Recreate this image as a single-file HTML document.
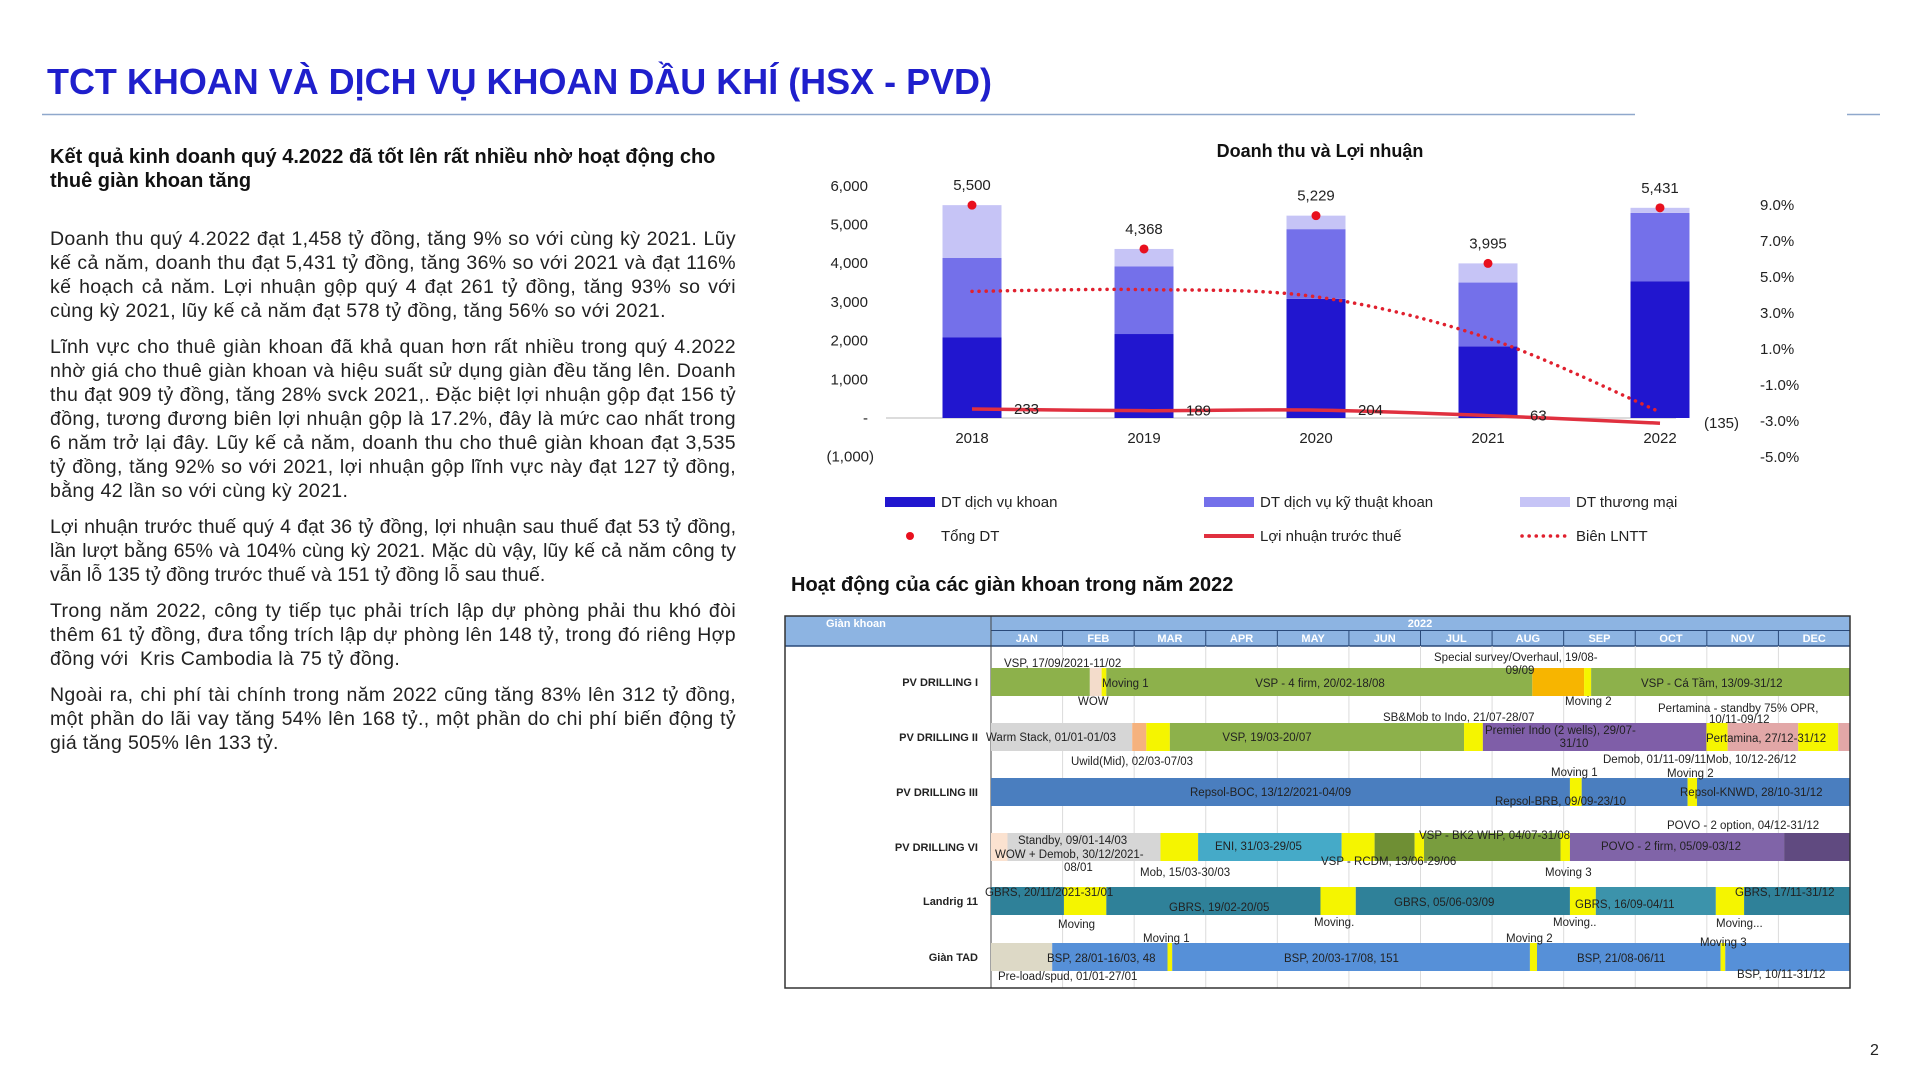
<!DOCTYPE html>
<html><head><meta charset="utf-8">
<style>
html,body{margin:0;padding:0;background:#fff;}
body{width:1920px;height:1080px;position:relative;overflow:hidden;font-family:"Liberation Sans",Arial,sans-serif;}
.abs{position:absolute;}
#heading{left:50px;top:145px;width:700px;font-weight:bold;font-size:20px;line-height:24px;color:#111;}
#body{left:50px;top:227px;width:686px;font-size:19.5px;letter-spacing:0.35px;line-height:24px;color:#222;text-align:justify;}
#body p{margin:0 0 12px 0;}
#body p.tight{letter-spacing:0px;}
</style></head>
<body>
<svg class="abs" style="left:0;top:0" width="1920" height="1080">
  <text x="47" y="94" font-family="Liberation Sans, sans-serif" font-weight="bold" font-size="36" fill="#1f1fcc" textLength="945" lengthAdjust="spacingAndGlyphs">TCT KHOAN VÀ DỊCH VỤ KHOAN DẦU KHÍ (HSX - PVD)</text>
  <line x1="42" y1="114.5" x2="1635" y2="114.5" stroke="#8fa8cc" stroke-width="1.5"/>
  <line x1="1847" y1="114.5" x2="1880" y2="114.5" stroke="#8fa8cc" stroke-width="1.5"/>
  <text x="1870" y="1055" font-family="Liberation Sans, sans-serif" font-size="16" fill="#222">2</text>
</svg>
<div id="heading" class="abs">Kết quả kinh doanh quý 4.2022 đã tốt lên rất nhiều nhờ hoạt động cho thuê giàn khoan tăng</div>
<div id="body" class="abs">
<p>Doanh thu quý 4.2022 đạt 1,458 tỷ đồng, tăng 9% so với cùng kỳ 2021. Lũy kế cả năm, doanh thu đạt 5,431 tỷ đồng, tăng 36% so với 2021 và đạt 116% kế hoạch cả năm. Lợi nhuận gộp quý 4 đạt 261 tỷ đồng, tăng 93% so với cùng kỳ 2021, lũy kế cả năm đạt 578 tỷ đồng, tăng 56% so với 2021.</p>
<p>Lĩnh vực cho thuê giàn khoan đã khả quan hơn rất nhiều trong quý 4.2022 nhờ giá cho thuê giàn khoan và hiệu suất sử dụng giàn đều tăng lên. Doanh thu đạt 909 tỷ đồng, tăng 28% svck 2021,. Đặc biệt lợi nhuận gộp đạt 156 tỷ đồng, tương đương biên lợi nhuận gộp là 17.2%, đây là mức cao nhất trong 6 năm trở lại đây. Lũy kế cả năm, doanh thu cho thuê giàn khoan đạt 3,535 tỷ đồng, tăng 92% so với 2021, lợi nhuận gộp lĩnh vực này đạt 127 tỷ đồng, bằng 42 lần so với cùng kỳ 2021.</p>
<p class="tight">Lợi nhuận trước thuế quý 4 đạt 36 tỷ đồng, lợi nhuận sau thuế đạt 53 tỷ đồng, lần lượt bằng 65% và 104% cùng kỳ 2021. Mặc dù vậy, lũy kế cả năm công ty vẫn lỗ 135 tỷ đồng trước thuế và 151 tỷ đồng lỗ sau thuế.</p>
<p>Trong năm 2022, công ty tiếp tục phải trích lập dự phòng phải thu khó đòi thêm 61 tỷ đồng, đưa tổng trích lập dự phòng lên 148 tỷ, trong đó riêng Hợp đồng với&nbsp; Kris Cambodia là 75 tỷ đồng.</p>
<p>Ngoài ra, chi phí tài chính trong năm 2022 cũng tăng 83% lên 312 tỷ đồng, một phần do lãi vay tăng 54% lên 168 tỷ., một phần do chi phí biến động tỷ giá tăng 505% lên 133 tỷ.</p>
</div>

<svg id="chart" class="abs" style="left:0;top:0" width="1920" height="1080" font-family="Liberation Sans, sans-serif"></svg>
<svg id="gantt" class="abs" style="left:0;top:0" width="1920" height="1080" font-family="Liberation Sans, sans-serif"></svg>

<script>
// ---------- chart data ----------
const years = ['2018','2019','2020','2021','2022'];
const dtKhoan = [2080, 2170, 3080, 1850, 3535];
const dtKyThuat = [2060, 1750, 1800, 1650, 1765];
const dtThuongMai = [1360, 448, 349, 495, 131];
const tongDT = [5500, 4368, 5229, 3995, 5431];
const lntt = [233, 189, 204, 63, -135];
const bienLNTT = [4.2, 4.3, 3.9, 1.6, -2.5];
const leftTicks = [6000, 5000, 4000, 3000, 2000, 1000, 0, -1000];
const leftTickLabels = ['6,000','5,000','4,000','3,000','2,000','1,000','-','(1,000)'];
const rightTicks = [9, 7, 5, 3, 1, -1, -3, -5];
const rightTickLabels = ['9.0%','7.0%','5.0%','3.0%','1.0%','-1.0%','-3.0%','-5.0%'];

const NS = 'http://www.w3.org/2000/svg';
function mk(parent, tag, attrs, text){
  const e = document.createElementNS(NS, tag);
  for (const k in attrs) e.setAttribute(k, attrs[k]);
  if (text !== undefined) e.textContent = text;
  parent.appendChild(e);
  return e;
}
function fmt(v){ const s = Math.abs(v).toString().replace(/\B(?=(\d{3})+(?!\d))/g, ','); return v < 0 ? '(' + s + ')' : s; }
const xS = i => 972 + i * 172;
const yL = v => 418 - v * 0.0387;
const yR = p => 367 - p * 18;
const BW = 59;

const chart = document.getElementById('chart');
let t = mk(chart, 'text', {x:1320, y:157, 'text-anchor':'middle', 'font-size':18, 'font-weight':'bold', fill:'#111'}, 'Doanh thu và Lợi nhuận');



leftTicks.forEach((v, i) => {
  const e = mk(chart, 'text', {x: v < 0 ? 874 : 868, y: yL(v) + 5, 'text-anchor':'end', 'font-size':15, fill:'#222'}, leftTickLabels[i]);
  
  
});
rightTicks.forEach((p, i) => {
  const e = mk(chart, 'text', {x:1760, y: yR(p) + 5, 'font-size':15, fill:'#222'}, rightTickLabels[i]);
  
  
});
let ax = mk(chart, 'line', {x1:886, y1:yL(0), x2:1676, y2:yL(0), stroke:'#d0d0d0', 'stroke-width':1.5});



years.forEach((y, i) => {
  const cx = xS(i);
  const segs = [[0, dtKhoan[i], '#2116cf', 'bar-dt-dich-vu-khoan'],
                [dtKhoan[i], dtKhoan[i] + dtKyThuat[i], '#7470ea', 'bar-dt-ky-thuat-khoan'],
                [dtKhoan[i] + dtKyThuat[i], dtKhoan[i] + dtKyThuat[i] + dtThuongMai[i], '#c6c4f6', 'bar-dt-thuong-mai']];
  segs.forEach(s => {
    const r = mk(chart, 'rect', {x: cx - BW/2, y: yL(s[1]), width: BW, height: yL(s[0]) - yL(s[1]), fill: s[2]});
    
    
  });
  const yl = mk(chart, 'text', {x: cx, y: 443, 'text-anchor':'middle', 'font-size':15, fill:'#222'}, y);
  
  
});

function smooth(pts){
  let d = 'M' + pts[0][0] + ',' + pts[0][1];
  for (let i = 0; i < pts.length - 1; i++) {
    const p0 = pts[Math.max(0, i-1)], p1 = pts[i], p2 = pts[i+1], p3 = pts[Math.min(pts.length-1, i+2)];
    const c1x = p1[0] + (p2[0]-p0[0])/6, c1y = p1[1] + (p2[1]-p0[1])/6;
    const c2x = p2[0] - (p3[0]-p1[0])/6, c2y = p2[1] - (p3[1]-p1[1])/6;
    d += ' C' + c1x + ',' + c1y + ' ' + c2x + ',' + c2y + ' ' + p2[0] + ',' + p2[1];
  }
  return d;
}
const mPts = bienLNTT.map((p, i) => [xS(i), yR(p)]);
let ml = mk(chart, 'path', {d: smooth(mPts), fill:'none', stroke:'#e0202e', 'stroke-width':3.5, 'stroke-dasharray':'0.1 7', 'stroke-linecap':'round'});



const pPts = lntt.map((v, i) => [xS(i), yL(v)]);
let pl = mk(chart, 'path', {d: smooth(pPts), fill:'none', stroke:'#e0303f', 'stroke-width':3.5});


lntt.forEach((v, i) => {
  const e = mk(chart, 'text', {x: xS(i) + (v < 0 ? 44 : 42), y: yL(v) + 5, 'font-size':15, fill:'#222'}, fmt(v));
  
  
});

tongDT.forEach((v, i) => {
  const d = mk(chart, 'circle', {cx: xS(i), cy: yL(v), r:4.5, fill:'#e8101e'});
  
  
  const e = mk(chart, 'text', {x: xS(i), y: yL(v) - 15, 'text-anchor':'middle', 'font-size':15, fill:'#222'}, fmt(v));
  
  
});

const legendItems = [
  ['rect', '#2116cf', 'DT dịch vụ khoan', 885, 502],
  ['rect', '#7470ea', 'DT dịch vụ kỹ thuật khoan', 1204, 502],
  ['rect', '#c6c4f6', 'DT thương mại', 1520, 502],
  ['dot', '#e8101e', 'Tổng DT', 885, 536],
  ['line', '#e0303f', 'Lợi nhuận trước thuế', 1204, 536],
  ['dots', '#e0202e', 'Biên LNTT', 1520, 536]
];
legendItems.forEach(it => {
  const g = mk(chart, 'g', {});
  
  
  const [kind, col, label, x, y] = it;
  if (kind === 'rect') mk(g, 'rect', {x: x, y: y - 5, width: 50, height: 10, fill: col});
  if (kind === 'dot') mk(g, 'circle', {cx: x + 25, cy: y, r: 4, fill: col});
  if (kind === 'line') mk(g, 'line', {x1: x, y1: y, x2: x + 50, y2: y, stroke: col, 'stroke-width': 4});
  if (kind === 'dots') mk(g, 'line', {x1: x + 2, y1: y, x2: x + 50, y2: y, stroke: col, 'stroke-width': 3.5, 'stroke-dasharray': '0.1 7', 'stroke-linecap': 'round'});
  mk(g, 'text', {x: x + 56, y: y + 5, 'font-size': 15, fill: '#222'}, label);
});

// ---------- gantt data ----------
const months = ['JAN','FEB','MAR','APR','MAY','JUN','JUL','AUG','SEP','OCT','NOV','DEC'];
const rigNames = ['PV DRILLING I','PV DRILLING II','PV DRILLING III','PV DRILLING VI','Landrig 11','Giàn TAD'];
const rigBarTop = [668, 723, 778, 833, 887, 943];
const segStart = [
  [0, 42, 47, 49, 230, 252, 255],
  [0, 60, 66, 76, 201, 209, 304, 313, 343, 360],
  [0, 246, 251, 296, 300],
  [0, 7, 72, 88, 149, 163, 180, 184, 242, 246, 337],
  [0, 31, 49, 140, 155, 246, 257, 308, 320],
  [0, 26, 75, 77, 229, 232, 310, 312]
];
const segEnd = [
  [42, 47, 49, 230, 252, 255, 365],
  [60, 66, 76, 201, 209, 304, 313, 343, 360, 365],
  [246, 251, 296, 300, 365],
  [7, 72, 88, 149, 163, 180, 184, 242, 246, 337, 365],
  [31, 49, 140, 155, 246, 257, 308, 320, 365],
  [26, 75, 77, 229, 232, 310, 312, 365]
];
const segColor = [
  ['#8db14b','#f3dccb','#f5f500','#8db14b','#f7b500','#f5f500','#8db14b'],
  ['#d6d6d6','#f5b27e','#f5f500','#8db14b','#f5f500','#7f5ea8','#f5f500','#e2a7a7','#f5f500','#e2a7a7'],
  ['#4a7ebf','#f5f500','#4a7ebf','#f5f500','#4a7ebf'],
  ['#fbe2d0','#d6d6d6','#f5f500','#45aac8','#f5f500','#6f8f34','#f5f500','#799d3e','#f5f500','#8064a8','#604a80'],
  ['#2f8199','#f5f500','#2f8199','#f5f500','#2f8199','#f5f500','#3c93ab','#f5f500','#2f8199'],
  ['#ddd9c6','#5690d8','#f5f500','#5690d8','#f5f500','#5690d8','#f5f500','#5690d8']
];
const ganttLabels = [
  ['VSP, 17/09/2021-11/02',1004,667,'start'],['Special survey/Overhaul, 19/08-',1434,661,'start'],['09/09',1520,674,'middle'],
  ['Moving 1',1102,687,'start'],['VSP - 4 firm, 20/02-18/08',1320,687,'middle'],['VSP - Cá Tầm, 13/09-31/12',1641,687,'start'],
  ['WOW',1078,705,'start'],['Moving 2',1565,705,'start'],['Pertamina - standby 75% OPR,',1658,712,'start'],['10/11-09/12',1709,723,'start'],
  ['SB&Mob to Indo, 21/07-28/07',1383,721,'start'],['Warm Stack, 01/01-01/03',986,741,'start'],['VSP, 19/03-20/07',1267,741,'middle'],
  ['Premier Indo (2 wells), 29/07-',1485,734,'start'],['31/10',1574,747,'middle'],['Pertamina, 27/12-31/12',1706,742,'start'],
  ['Uwild(Mid), 02/03-07/03',1071,765,'start'],['Demob, 01/11-09/11Mob, 10/12-26/12',1603,763,'start'],
  ['Moving 1',1551,776,'start'],['Moving 2',1667,777,'start'],
  ['Repsol-BOC, 13/12/2021-04/09',1190,796,'start'],['Repsol-BRB, 09/09-23/10',1495,805,'start'],['Repsol-KNWD, 28/10-31/12',1680,796,'start'],
  ['POVO - 2 option, 04/12-31/12',1667,829,'start'],
  ['Standby, 09/01-14/03',1018,844,'start'],['WOW + Demob, 30/12/2021-',995,858,'start'],['08/01',1064,871,'start'],
  ['ENI, 31/03-29/05',1215,850,'start'],['VSP - BK2 WHP, 04/07-31/08',1419,839,'start'],['VSP - RCDM, 13/06-29/06',1321,865,'start'],
  ['POVO - 2 firm, 05/09-03/12',1601,850,'start'],['Mob, 15/03-30/03',1140,876,'start'],['Moving 3',1545,876,'start'],
  ['GBRS, 20/11/2021-31/01',985,896,'start'],['GBRS, 19/02-20/05',1169,911,'start'],['GBRS, 05/06-03/09',1394,906,'start'],
  ['GBRS, 16/09-04/11',1575,908,'start'],['GBRS, 17/11-31/12',1735,896,'start'],
  ['Moving',1058,928,'start'],['Moving.',1314,926,'start'],['Moving..',1553,926,'start'],['Moving...',1716,927,'start'],
  ['Moving 1',1143,942,'start'],['Moving 2',1506,942,'start'],['Moving 3',1700,946,'start'],
  ['BSP, 28/01-16/03,  48',1047,962,'start'],['BSP, 20/03-17/08,  151',1284,962,'start'],['BSP, 21/08-06/11',1577,962,'start'],
  ['BSP, 10/11-31/12',1737,978,'start'],['Pre-load/spud, 01/01-27/01',998,980,'start']
];

const G = document.getElementById('gantt');
const GX0 = 991, GX1 = 1850;
const xD = d => GX0 + d / 365 * (GX1 - GX0);
let gt = mk(G, 'text', {x:791, y:591, 'font-size':20, 'font-weight':'bold', fill:'#111'}, 'Hoạt động của các giàn khoan trong năm 2022');


let bg = mk(G, 'rect', {x:785, y:616, width:1065, height:372, fill:'#fff'});


let hd = mk(G, 'rect', {x:785, y:616, width:1065, height:30, fill:'#8db4e2'});


mk(G, 'line', {x1:991, y1:630.5, x2:1850, y2:630.5, stroke:'#2a4a7a', 'stroke-width':1});
mk(G, 'line', {x1:785, y1:646, x2:1850, y2:646, stroke:'#2a4a7a', 'stroke-width':1.5});
mk(G, 'line', {x1:991, y1:616, x2:991, y2:988, stroke:'#444', 'stroke-width':1});
let hk = mk(G, 'text', {x:826, y:627, 'font-size':11, 'font-weight':'bold', fill:'#fff'}, 'Giàn khoan');


let hy = mk(G, 'text', {x:1420, y:627, 'text-anchor':'middle', 'font-size':11, 'font-weight':'bold', fill:'#fff'}, '2022');


months.forEach((m, i) => {
  const x0 = GX0 + i * (GX1 - GX0) / 12, x1 = GX0 + (i + 1) * (GX1 - GX0) / 12;
  if (i > 0) {
    mk(G, 'line', {x1: x0, y1: 631, x2: x0, y2: 646, stroke: '#2a4a7a', 'stroke-width': 1});
    mk(G, 'line', {x1: x0, y1: 646, x2: x0, y2: 988, stroke: '#dcdcdc', 'stroke-width': 1});
  }
  const e = mk(G, 'text', {x: (x0 + x1) / 2, y: 642, 'text-anchor':'middle', 'font-size':11, 'font-weight':'bold', fill:'#fff'}, m);
  
  
});
rigNames.forEach((n, r) => {
  const top = rigBarTop[r];
  segStart[r].forEach((s, k) => {
    const rc = mk(G, 'rect', {x: xD(s), y: top, width: xD(segEnd[r][k]) - xD(s), height: 28, fill: segColor[r][k]});
    
    
  });
  const e = mk(G, 'text', {x: 978, y: top + 18, 'text-anchor':'end', 'font-size':11, 'font-weight':'bold', fill:'#222'}, n);
  
  
});
ganttLabels.forEach(l => {
  const e = mk(G, 'text', {x: l[1], y: l[2], 'text-anchor': l[3], 'font-size':11.5, fill:'#222'}, l[0]);
  
  
});
let bd = mk(G, 'rect', {x:785, y:616, width:1065, height:372, fill:'none', stroke:'#333', 'stroke-width':1.5});


</script>
</body></html>
